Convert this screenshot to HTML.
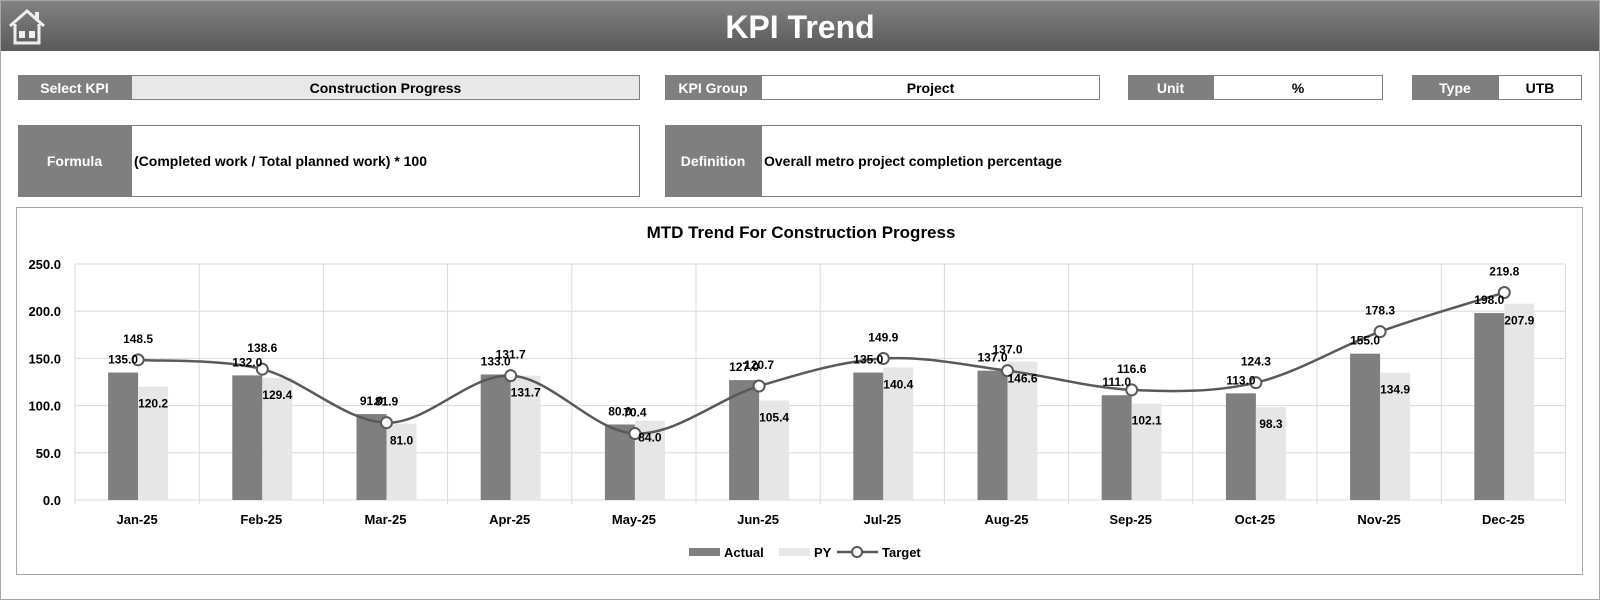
<!DOCTYPE html>
<html><head><meta charset="utf-8"><style>
body{margin:0;width:1600px;height:600px;background:#fff;font-family:"Liberation Sans",Arial,sans-serif;position:relative;overflow:hidden}
.frame{position:absolute;left:0;top:0;width:1598px;height:598px;border:1px solid #a6a6a6}
.hdr{position:absolute;left:1px;top:1px;width:1598px;height:50px;background:linear-gradient(#828282,#5a5a5a)}
.hdr h1{margin:0;text-align:center;color:#fff;font-size:32px;line-height:52px;font-weight:bold}
.b{position:absolute;box-sizing:border-box;font-weight:bold;font-size:14px;display:flex;align-items:center}
.lab{background:#7f7f7f;color:#fff;justify-content:center}
.val{border:1px solid #7f7f7f;background:#fff;color:#000;justify-content:center}
.chart{position:absolute;left:16px;top:207px;width:1567px;height:368px;box-sizing:border-box;border:1px solid #a6a6a6}
</style></head><body>
<div class="frame"></div>
<div class="hdr"><h1>KPI Trend</h1>
<svg style="position:absolute;left:6px;top:6px" width="40" height="38" viewBox="0 0 40 38"><path d="M3 19 L20 4 L37 19" fill="none" stroke="#eee" stroke-width="3"/><path d="M8 17 V36 H32 V17" fill="none" stroke="#eee" stroke-width="3"/><rect x="12" y="24" width="6" height="7" fill="#eee"/><rect x="22" y="24" width="6" height="7" fill="#eee"/><rect x="28" y="5" width="4" height="8" fill="#eee"/></svg></div>
<div class="b lab" style="left:18px;top:75px;width:113px;height:25px">Select KPI</div>
<div class="b val" style="left:131px;top:75px;width:509px;height:25px;background:#e8e8e8">Construction Progress</div>
<div class="b lab" style="left:665px;top:75px;width:96px;height:25px">KPI Group</div>
<div class="b val" style="left:761px;top:75px;width:339px;height:25px">Project</div>
<div class="b lab" style="left:1128px;top:75px;width:85px;height:25px">Unit</div>
<div class="b val" style="left:1213px;top:75px;width:170px;height:25px">%</div>
<div class="b lab" style="left:1412px;top:75px;width:86px;height:25px">Type</div>
<div class="b val" style="left:1498px;top:75px;width:84px;height:25px">UTB</div>
<div class="b lab" style="left:18px;top:125px;width:113px;height:72px">Formula</div>
<div class="b val" style="left:131px;top:125px;width:509px;height:72px;justify-content:flex-start;padding-left:2px">(Completed work / Total planned work) * 100</div>
<div class="b lab" style="left:665px;top:125px;width:96px;height:72px">Definition</div>
<div class="b val" style="left:761px;top:125px;width:821px;height:72px;justify-content:flex-start;padding-left:2px">Overall metro project completion percentage</div>
<div class="chart"></div>
<svg id="c" style="position:absolute;left:0;top:0" width="1600" height="600" font-family="Liberation Sans, Arial, sans-serif" font-weight="bold"></svg>
<script>
var A=[135,132,91,133,80,127,135,137,111,113,155,198],P=[120.2,129.4,81,131.7,84,105.4,140.4,146.6,102.1,98.3,134.9,207.9],T=[148.5,138.6,81.9,131.7,70.4,120.7,149.9,137.0,116.6,124.3,178.3,219.8];
var M=["Jan-25","Feb-25","Mar-25","Apr-25","May-25","Jun-25","Jul-25","Aug-25","Sep-25","Oct-25","Nov-25","Dec-25"];
var L=75,W=124.2,s='';function y(v){return 500-v*0.944}
s+='<text x="801" y="238" text-anchor="middle" font-size="17" fill="#000">MTD Trend For Construction Progress</text>';
for(var g=0;g<=5;g++){var yy=y(g*50);s+='<line x1="'+L+'" x2="'+(L+12*W)+'" y1="'+yy+'" y2="'+yy+'" stroke="#d9d9d9"/>';s+='<text x="61" y="'+(yy+5)+'" text-anchor="end" font-size="13">'+(g*50).toFixed(1)+'</text>';}
for(var i=0;i<=12;i++){var xx=L+W*i;s+='<line x1="'+xx+'" x2="'+xx+'" y1="264" y2="504" stroke="#d9d9d9"/>';}
var pts=[];
for(i=0;i<12;i++){var cx=L+W*(i+.5);
s+='<rect x="'+(cx-29)+'" y="'+y(A[i])+'" width="30" height="'+(A[i]*0.944)+'" fill="#7f7f7f"/>';
s+='<rect x="'+(cx+1)+'" y="'+y(P[i])+'" width="30" height="'+(P[i]*0.944)+'" fill="#e6e6e6"/>';
s+='<text x="'+cx+'" y="524" text-anchor="middle" font-size="13">'+M[i]+'</text>';
pts.push([cx+1,y(T[i])]);}
var d='M'+pts[0][0]+' '+pts[0][1];
for(i=0;i<11;i++){var p0=pts[Math.max(0,i-1)],p1=pts[i],p2=pts[i+1],p3=pts[Math.min(11,i+2)];
d+=' C'+(p1[0]+(p2[0]-p0[0])/6)+' '+(p1[1]+(p2[1]-p0[1])/6)+' '+(p2[0]-(p3[0]-p1[0])/6)+' '+(p2[1]-(p3[1]-p1[1])/6)+' '+p2[0]+' '+p2[1];}
s+='<path d="'+d+'" fill="none" stroke="#595959" stroke-width="2.5"/>';
for(i=0;i<12;i++){var cx=L+W*(i+.5);
s+='<circle cx="'+pts[i][0]+'" cy="'+pts[i][1]+'" r="5.5" fill="#fff" stroke="#595959" stroke-width="2"/>';
s+='<text x="'+(cx-14)+'" y="'+(y(A[i])-9)+'" text-anchor="middle" font-size="12">'+A[i].toFixed(1)+'</text>';
s+='<text x="'+(cx+16)+'" y="'+(y(P[i])+21)+'" text-anchor="middle" font-size="12">'+P[i].toFixed(1)+'</text>';
s+='<text x="'+(cx+1)+'" y="'+(pts[i][1]-17)+'" text-anchor="middle" font-size="12">'+T[i].toFixed(1)+'</text>';}
s+='<rect x="689" y="548" width="31" height="8" fill="#7f7f7f"/><text x="724" y="557" font-size="13">Actual</text>';
s+='<rect x="779" y="548" width="31" height="8" fill="#e6e6e6"/><text x="814" y="557" font-size="13">PY</text>';
s+='<line x1="837" x2="878" y1="552" y2="552" stroke="#595959" stroke-width="2.5"/><circle cx="857" cy="552" r="5" fill="#fff" stroke="#595959" stroke-width="2"/><text x="882" y="557" font-size="13">Target</text>';
document.getElementById('c').innerHTML=s;
</script>
</body></html>
